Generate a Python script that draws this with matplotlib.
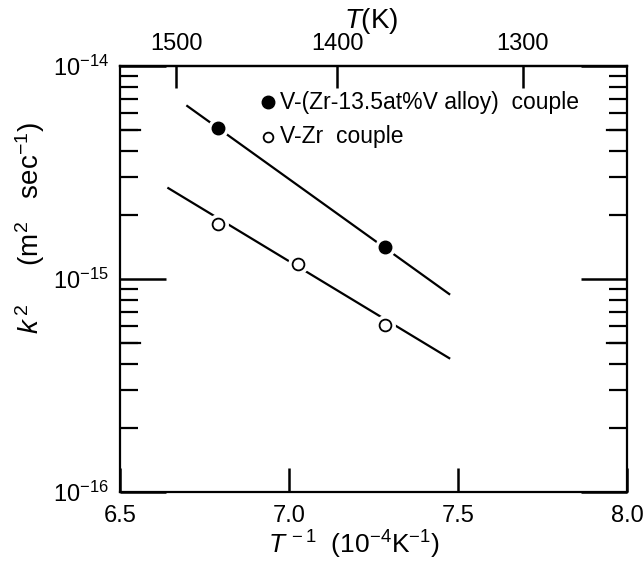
import numpy as np
import matplotlib
matplotlib.use("Agg")
import matplotlib.pyplot as plt
from matplotlib.ticker import FixedLocator, NullFormatter, FixedFormatter

plt.rcParams['font.family'] = ['Liberation Sans', 'DejaVu Sans']
plt.rcParams['mathtext.fontset'] = 'custom'
plt.rcParams['mathtext.rm'] = 'Liberation Sans'
plt.rcParams['mathtext.it'] = 'Liberation Sans:italic'

# Data: inverse temperature (1e-4 K^-1) and k^2 (m^2/s)
x_alloy = [6.789, 7.283]
k2_alloy = [5.1e-15, 1.42e-15]
x_vzr = [6.789, 7.027, 7.283]
k2_vzr = [1.81e-15, 1.17e-15, 6.1e-16]

# fitted lines (endpoints)
fit_alloy_x = [6.699, 7.474]
fit_alloy_y = [6.49e-15, 8.5e-16]
fit_vzr_x = [6.643, 7.474]
fit_vzr_y = [2.67e-15, 4.25e-16]

top_T = [1500, 1400, 1300]
x_ticks = [6.5, 7.0, 7.5, 8.0]
x_ticklabels = ['6.5', '7.0', '7.5', '8.0']
legend_labels = ['V-(Zr-13.5at%V alloy)  couple', 'V-Zr  couple']

W, H = 643, 565
fig = plt.figure(figsize=(W / 100, H / 100), dpi=100)
L, R, T, B = 120, 627, 66, 492
ax = fig.add_axes([L / W, 1 - B / H, (R - L) / W, (B - T) / H])
ax.set_xlim(6.5, 8.0)
ax.set_yscale('log')
ax.set_ylim(1e-16, 1e-14)

lw = 1.6
ax.plot(fit_alloy_x, fit_alloy_y, color='black', lw=lw, zorder=2)
ax.plot(fit_vzr_x, fit_vzr_y, color='black', lw=lw, zorder=2)
# white halo to break lines around markers
ax.plot(x_alloy, k2_alloy, 'o', ms=14, mfc='white', mec='white', zorder=3)
ax.plot(x_vzr, k2_vzr, 'o', ms=14, mfc='white', mec='white', zorder=3)
ax.plot(x_alloy, k2_alloy, 'o', ms=9, mfc='black', mec='black', zorder=4)
ax.plot(x_vzr, k2_vzr, 'o', ms=8.5, mfc='white', mec='black', mew=1.3, zorder=4)

for s in ax.spines.values():
    s.set_linewidth(1.6)

fs = 17
# x ticks
ax.xaxis.set_major_locator(FixedLocator(x_ticks))
ax.xaxis.set_major_formatter(FixedFormatter(x_ticklabels))
ax.tick_params(axis='x', which='major', direction='in', length=17, width=1.8,
               labelsize=fs, pad=9)
ax.xaxis.set_minor_locator(FixedLocator([]))

# y ticks
ax.yaxis.set_major_locator(FixedLocator([1e-16, 1e-15, 1e-14]))
ax.set_yticklabels([r'$\mathregular{10^{-16}}$', r'$\mathregular{10^{-15}}$',
                    r'$\mathregular{10^{-14}}$'])
minor = []
for d in [1e-16, 1e-15]:
    for m in [2, 3, 4, 5, 6, 7, 8, 9]:
        minor.append(m * d)
ax.yaxis.set_minor_locator(FixedLocator(minor))
ax.yaxis.set_minor_formatter(NullFormatter())
ax.tick_params(axis='y', which='major', direction='in', length=33, width=1.8,
               labelsize=17, left=True, right=True, pad=8)
ax.tick_params(axis='y', which='minor', direction='in', length=13, width=1.6,
               left=True, right=True)
# longer ticks at 5
for d in [1e-16, 1e-15]:
    ax.axhline(5 * d, xmin=0, xmax=20 / (R - L), color='black', lw=1.6, zorder=1)
    ax.axhline(5 * d, xmin=1 - 20 / (R - L), xmax=1, color='black', lw=1.6, zorder=1)

# top axis in T (K)
sec = ax.secondary_xaxis('top', functions=(lambda v: 1e4 / np.asarray(v, float),
                                           lambda t: 1e4 / np.asarray(t, float)))
sec.xaxis.set_major_locator(FixedLocator(top_T))
sec.xaxis.set_major_formatter(FixedFormatter([str(t) for t in top_T]))
sec.xaxis.set_minor_locator(FixedLocator([]))
sec.tick_params(axis='x', direction='in', length=16, width=1.8, labelsize=fs, pad=8)
sec.spines['top'].set_linewidth(1.6)

# labels
fig.text(371 / W, 1 - 21 / H, r'$\it{T}$(K)', fontsize=20, ha='center', va='center')
fig.text(354 / W, 1 - 545 / H, r'$\it{T}^{\,-1}$  (10$^{-4}$K$^{-1}$)', fontsize=19,
         ha='center', va='center')
fig.text(30 / W, 1 - 228 / H, r'$\it{k}^{\,2}$     (m$^{2}$   sec$^{-1}$)', rotation=90,
         fontsize=20, ha='center', va='center')

# legend (drawn manually in axes coordinates)
lx = (268 - L) / (R - L)
ly1 = 1 - (102 - T) / (B - T)
ly2 = 1 - (137 - T) / (B - T)
tx = (280 - L) / (R - L)
ax.plot([lx], [ly1], 'o', ms=9, mfc='black', mec='black', transform=ax.transAxes,
        clip_on=False)
ax.plot([lx], [ly2], 'o', ms=7, mfc='white', mec='black', mew=1.3,
        transform=ax.transAxes, clip_on=False)
ax.text(tx, ly1, legend_labels[0], transform=ax.transAxes, fontsize=16.5,
        ha='left', va='center')
ax.text(tx, ly2, legend_labels[1], transform=ax.transAxes, fontsize=16.5,
        ha='left', va='center')

fig.savefig('out.png', dpi=100)
